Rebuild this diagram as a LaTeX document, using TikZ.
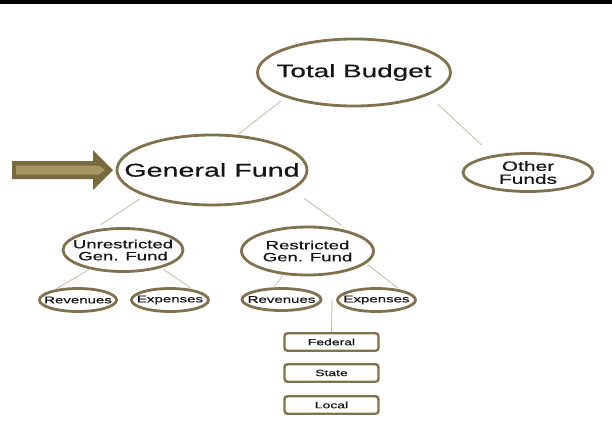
\documentclass[tikz,border=0pt]{standalone}
\usepackage{fontspec}
\newfontfamily\wide{Liberation Sans}[FakeStretch=1.55,FakeBold=0.5]
\usetikzlibrary{shapes.geometric}
\definecolor{edge}{RGB}{128,114,78}
\definecolor{linec}{RGB}{198,192,176}
\definecolor{arrowd}{RGB}{118,106,62}
\definecolor{arrowl}{RGB}{165,150,98}
\definecolor{txt}{RGB}{20,20,20}
\begin{document}
\begin{tikzpicture}[x=1pt,y=-1pt,
 bub/.style={ellipse, draw=edge, line width=2.8pt, fill=white, inner sep=0pt},
 lbl/.style={text=txt, align=center, inner sep=0pt},
 conn/.style={draw=linec, line width=0.9pt},
 boxn/.style={draw=edge, line width=2.4pt, rounded corners=3pt, fill=white, minimum width=94pt, minimum height=17.5pt, inner sep=0pt, text=txt, font=\wide\fontsize{9}{10}\selectfont}]
\path[use as bounding box] (0,0) rectangle (612,436);
\fill[black] (0,0) rectangle (612,4);

% ellipses
\node[bub, minimum width=193pt, minimum height=67pt] (tb) at (354,72.5) {};
\node[lbl, font=\wide\fontsize{18}{18}\selectfont] (tbt) at (tb) {Total Budget};
\node[bub, minimum width=190pt, minimum height=70pt] (gf) at (212,170) {};
\node[lbl, font=\wide\fontsize{18.5}{18.5}\selectfont] (gft) at (gf) {General Fund};
\node[bub, minimum width=130pt, minimum height=38pt] (of) at (528,172.5) {};
\node[lbl, font=\wide\fontsize{13.5}{13}\selectfont] (oft) at (of) {Other\\Funds};
\node[bub, minimum width=120pt, minimum height=43pt] (ur) at (123,250) {};
\node[lbl, font=\wide\fontsize{12}{12}\selectfont] (urt) at (ur) {Unrestricted\\Gen. Fund};
\node[bub, minimum width=132pt, minimum height=48pt] (rg) at (307.5,251) {};
\node[lbl, font=\wide\fontsize{12}{12}\selectfont] (rgt) at (rg) {Restricted\\Gen. Fund};
\node[bub, minimum width=77pt, minimum height=23pt] (urev) at (78,300) {};
\node[lbl, font=\wide\fontsize{9.7}{10}\selectfont] (urevt) at (urev) {Revenues};
\node[bub, minimum width=77pt, minimum height=23pt] (uexp) at (170,300) {};
\node[lbl, font=\wide\fontsize{9.7}{10}\selectfont] (uexpt) at (uexp) {Expenses};
\node[bub, minimum width=79pt, minimum height=22pt] (rrev) at (281.5,299.5) {};
\node[lbl, font=\wide\fontsize{9.7}{10}\selectfont] (rrevt) at (rrev) {Revenues};
\node[bub, minimum width=78pt, minimum height=23pt] (rexp) at (376.5,300) {};
\node[lbl, font=\wide\fontsize{9.7}{10}\selectfont] (rexpt) at (rexp) {Expenses};

% boxes
\node[boxn] (fed) at (331.5,342) {Federal};
\node[boxn] (sta) at (331.5,373) {State};
\node[boxn] (loc) at (331.5,405) {Local};

% connectors
\draw[conn, shorten <=6pt, shorten >=1pt] (tb.200) -- (gf.54);
\draw[conn, shorten <=13pt, shorten >=15pt] (tb.343) -- (of.154);
\draw[conn, shorten <=6pt, shorten >=10pt] (gf.201) -- (ur.147);
\draw[conn, shorten <=14pt, shorten >=10pt] (gf.346) -- (rg.25);
\draw[conn, shorten <=1pt, shorten >=1pt] (ur.210) -- (urev.155);
\draw[conn, shorten <=3pt, shorten >=2pt] (ur.335) -- (uexp.25);
\draw[conn, shorten <=1pt, shorten >=1pt] (rg.225) -- (rrev.123);
\draw[conn, shorten <=2pt, shorten >=2pt] (rg.348) -- (rexp.25);
\coordinate (vtop) at (332,298);
\draw[conn] (vtop) -- (fed.north);

% big arrow
\fill[arrowd] (12,161) -- (93,161) -- (93,150) -- (113,170) -- (93,190) -- (93,179) -- (12,179) -- cycle;
\fill[arrowl] (16,165.5) -- (99,165.5) -- (105,170) -- (99,174.5) -- (16,174.5) -- cycle;
\end{tikzpicture}
\end{document}
